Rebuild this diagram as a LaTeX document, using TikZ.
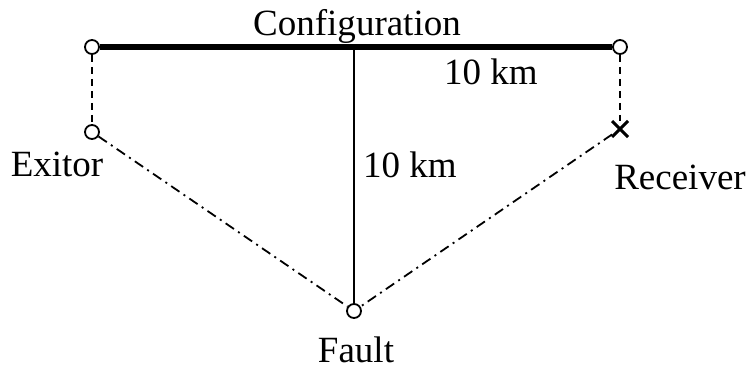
\documentclass[tikz,border=0pt]{standalone}
\usepackage{fontspec}
\setmainfont{Liberation Serif}
\usetikzlibrary{shapes.misc}
\tikzset{
    port/.style={
        draw,
        circle,
        fill=white,
        inner sep=0pt,
        minimum size=14pt,
        line width=1.8pt
    },
    xmark/.style={
        draw,
        cross out,
        inner sep=0pt,
        minimum size=13pt,
        line width=3pt
    },
    cable/.style={line width=5.5pt},
    depth/.style={line width=1.8pt},
    lead/.style={line width=1.8pt, dash pattern=on 7pt off 5pt},
    ray/.style={line width=1.8pt, dash pattern=on 10pt off 5pt on 2pt off 5pt},
    tag/.style={font=\fontsize{37}{40}\selectfont, inner sep=0pt},
    every node/.style={font=\small}
}
\begin{document}
\begin{tikzpicture}[x=1pt, y=-1pt]
\useasboundingbox (0,0) rectangle (751,370);

% stations
\node[port] (left) at (92,47) {};
\node[port] (right) at (620,47) {};
\node[port] (exitor) at (92,132) {};
\node[xmark] (receiver) at (620,129) {};
\node[port] (fault) at (354,311) {};
\coordinate (mid) at (354,47);

% lines
\draw[depth] (mid) -- (fault);
\draw[cable] (left) -- (right);
\draw[lead] (left) -- (exitor);
\draw[lead] (right) -- (receiver);
\draw[ray] (exitor) -- (fault);
\draw[ray] (receiver) -- (fault);

% labels
\node[tag, anchor=base] (conf) at (357,35) {Configuration};
\node[tag, anchor=base] (hdist) at (491,84) {10 km};
\node[tag, anchor=base west] (vdist) at (363,177) {10 km};
\node[tag, anchor=base] (exlbl) at (57,176) {Exitor};
\node[tag, anchor=base] (rclbl) at (680,189) {Receiver};
\node[tag, anchor=base] (ftlbl) at (356,362) {Fault};
\end{tikzpicture}
\end{document}
